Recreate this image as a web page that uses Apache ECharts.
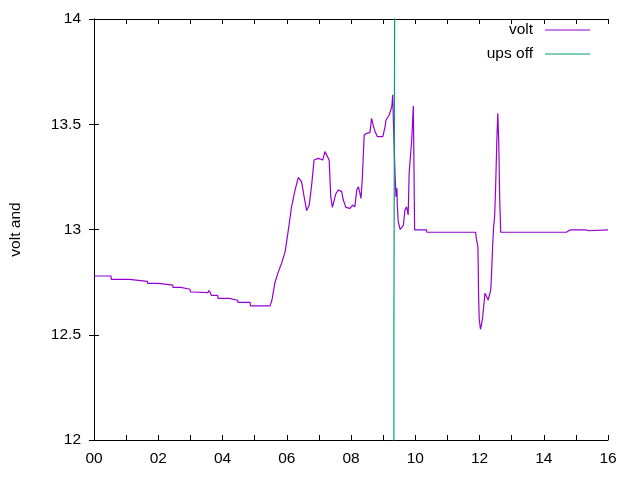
<!DOCTYPE html>
<html>
<head>
<meta charset="utf-8">
<script src="https://cdn.jsdelivr.net/npm/echarts@6/dist/echarts.min.js"></script>
<style>
  html, body { margin: 0; padding: 0; background: #fff; }
  #chart { width: 640px; height: 480px; }
</style>
</head>
<body>
<div id="chart"></div>
<script>
// hours since midnight, battery voltage
const voltHours = [
  0.00, 0.53, 0.54, 1.10, 1.11, 1.66, 1.67, 2.00, 2.01, 2.45, 2.46, 2.70, 2.71, 2.99,
  3.00, 3.08, 3.10, 3.12, 3.55, 3.57, 3.62, 3.65, 3.85, 3.86, 4.21, 4.22, 4.47, 4.48,
  4.86, 4.87, 5.48, 5.54, 5.63, 5.74, 5.84, 5.95, 6.05, 6.15, 6.26, 6.36, 6.46, 6.54,
  6.62, 6.70, 6.78, 6.85, 6.98, 7.04, 7.12, 7.19, 7.24, 7.32, 7.37, 7.42, 7.47, 7.53,
  7.61, 7.71, 7.76, 7.84, 7.97, 8.05, 8.12, 8.18, 8.23, 8.28, 8.31, 8.35, 8.41, 8.49,
  8.59, 8.64, 8.69, 8.75, 8.82, 8.99, 9.06, 9.09, 9.19, 9.27, 9.30, 9.32, 9.37, 9.40,
  9.43, 9.44, 9.47, 9.53, 9.63, 9.68, 9.73, 9.78, 9.81, 9.89, 9.92, 9.94, 9.96, 9.98,
  10.10, 10.15, 10.20, 10.35, 10.36, 10.98, 10.99, 11.00, 11.70, 11.73, 11.76, 11.88,
  11.90, 11.95, 11.96, 11.97, 11.99, 12.03, 12.06, 12.10, 12.13, 12.17, 12.22, 12.27,
  12.30, 12.35, 12.38, 12.41, 12.44, 12.47, 12.50, 12.54, 12.57, 12.60, 12.63, 12.66,
  14.51, 14.55, 14.60, 14.65, 14.70, 14.82, 15.16, 15.22, 15.30, 15.40, 15.45, 16.00
];
const voltValues = [
  12.779, 12.779, 12.763, 12.763, 12.754, 12.754, 12.744, 12.744, 12.736, 12.736, 12.725, 12.725, 12.716, 12.716,
  12.703, 12.703, 12.712, 12.703, 12.700, 12.710, 12.700, 12.687, 12.687, 12.673, 12.673, 12.664, 12.664, 12.654,
  12.654, 12.637, 12.637, 12.665, 12.746, 12.800, 12.840, 12.895, 12.998, 13.108, 13.188, 13.248, 13.227, 13.156,
  13.090, 13.116, 13.219, 13.330, 13.338, 13.346, 13.330, 13.370, 13.378, 13.330, 13.156, 13.105, 13.105, 13.170,
  13.188, 13.180, 13.140, 13.105, 13.100, 13.116, 13.108, 13.188, 13.203, 13.170, 13.148, 13.235, 13.449, 13.457,
  13.460, 13.528, 13.496, 13.465, 13.441, 13.441, 13.488, 13.520, 13.544, 13.584, 13.640, 13.510, 13.267, 13.156,
  13.196, 13.120, 13.037, 13.000, 13.020, 13.093, 13.108, 13.069, 13.267, 13.425, 13.520, 13.587, 13.298, 12.998,
  12.998, 12.990, 12.998, 12.998, 12.987, 12.987, 12.982, 12.987, 12.987, 12.982, 12.987, 12.987,
  12.958, 12.918, 12.830, 12.700, 12.578, 12.526, 12.546, 12.586, 12.633, 12.697, 12.705, 12.665,
  12.673, 12.713, 12.808, 12.926, 13.013, 13.061, 13.188, 13.425, 13.552, 13.410, 13.140, 12.987,
  12.987, 12.993, 12.987, 12.993, 12.987, 12.998, 12.998, 13.003, 12.998, 12.994, 12.998, 12.998
];
// ups off marker
const upsHours = [9.335, 9.335, 9.365, 9.365];
const upsValues = [11.5, 12.5, 12.5, 14.5];

const xTickLabels = ["00", "02", "04", "06", "08", "10", "12", "14", "16"];

const chart = echarts.init(document.getElementById("chart"));

const font = "Liberation Sans, Arial, sans-serif";
const fs = 15.5;
const axisLine = { show: true, lineStyle: { color: "#000", width: 1 } };
const tick = { show: true, inside: true, length: 5, lineStyle: { color: "#000" } };

const option = {
  animation: false,
  backgroundColor: "#fff",
  textStyle: { fontFamily: font },
  grid: { left: 94, right: 32, top: 19, bottom: 40, containLabel: false, outerBoundsMode: "none" },
  legend: {
    orient: "vertical",
    right: 45,
    top: 17,
    align: "right",
    icon: "rect",
    itemWidth: 45,
    itemHeight: 1,
    itemGap: 8,
    textStyle: { fontFamily: font, fontSize: fs, color: "#000", padding: [0, 7, 0, 0] },
    data: ["volt", "ups off"]
  },
  xAxis: [
    {
      type: "value", min: 0, max: 16, interval: 1, position: "bottom",
      axisLine, axisTick: tick, splitLine: { show: false },
      axisLabel: {
        margin: 11, fontSize: fs, color: "#000", fontFamily: font,
        formatter: v => (v % 2 === 0 ? xTickLabels[v / 2] : "")
      }
    },
    {
      type: "value", min: 0, max: 16, interval: 1, position: "top",
      axisLine, axisTick: tick, splitLine: { show: false }, axisLabel: { show: false }
    }
  ],
  yAxis: [
    {
      type: "value", min: 12, max: 14, interval: 0.5, position: "left",
      name: "volt and", nameLocation: "middle", nameGap: 70, nameRotate: 90,
      nameTextStyle: { fontSize: fs, color: "#000", fontFamily: font },
      axisLine, axisTick: tick, splitLine: { show: false },
      axisLabel: { margin: 13, fontSize: fs, color: "#000", fontFamily: font }
    },
    {
      type: "value", min: 12, max: 14, interval: 0.5, position: "right",
      axisLine, axisTick: tick, splitLine: { show: false }, axisLabel: { show: false }
    }
  ],
  series: [
    {
      name: "volt", type: "line", showSymbol: false, symbol: "none",
      lineStyle: { color: "#9400d3", width: 1.2 }, itemStyle: { color: "#9400d3" },
      clip: true,
      data: voltHours.map((h, i) => [h, voltValues[i]])
    },
    {
      name: "ups off", type: "line", showSymbol: false, symbol: "none",
      lineStyle: { color: "#009e73", width: 1.2 }, itemStyle: { color: "#009e73" },
      clip: true,
      data: upsHours.map((h, i) => [h, upsValues[i]])
    }
  ]
};

chart.setOption(option);
</script>
</body>
</html>
